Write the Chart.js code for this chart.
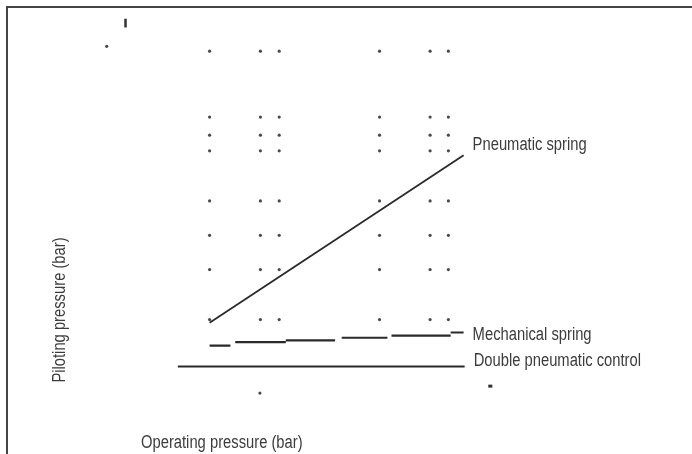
<!DOCTYPE html>
<html><head><meta charset="utf-8">
<script src="https://cdn.jsdelivr.net/npm/chart.js@4/dist/chart.umd.min.js"></script>
<style>html,body{margin:0;padding:0;background:#fff}#wrap{width:692px;height:454px;position:relative}</style>
</head><body><div id="wrap"><canvas id="c" width="692" height="454"></canvas></div>
<script>
// ---- data (bar) ----
const seriesNames = ['Pneumatic spring', 'Mechanical spring', 'Double pneumatic control'];
const xTitle = 'Operating pressure (bar)';
const yTitle = 'Piloting pressure (bar)';

const pneumaticX = [0, 10];
const pneumaticY = [2.07, 10.0];

const mechanicalStartX = [0, 1.01, 3.0, 5.2, 7.16, 9.49];
const mechanicalEndX   = [0.82, 3.0, 4.94, 7.0, 9.49, 10];
const mechanicalY      = [0.99, 1.15, 1.24, 1.36, 1.46, 1.61];

const doubleX = [-1.25, 10.04];
const doubleY = [0, 0];

const gridDotX = [0, 2, 2.74, 6.69, 8.68, 9.4];
const gridDotY = [14.93, 11.81, 10.95, 10.21, 7.84, 6.21, 4.59, 2.22];
const strayDotX = [-4.05, 1.98];
const strayDotY = [15.16, -1.26];
const strayDashX = [10.97, 11.13];
const strayDashY = [-0.93, -0.93];
const strayTickX = [-3.31, -3.31];
const strayTickY = [16.47, 16.05];

// ---- build ----
const lineColor = '#2a2a2a';
const textColor = '#3c3c3c';
const pts = (xs, ys) => xs.map((x, i) => ({x, y: ys[i]}));
const mechPts = [];
mechanicalStartX.forEach((x0, i) => {
  mechPts.push({x: x0, y: mechanicalY[i]});
  mechPts.push({x: mechanicalEndX[i], y: mechanicalY[i]});
  if (i < mechanicalStartX.length - 1) mechPts.push({x: mechanicalEndX[i], y: null});
});
const dotPts = [];
gridDotY.forEach(y => gridDotX.forEach(x => dotPts.push({x, y})));
pts(strayDotX, strayDotY).forEach(p => dotPts.push(p));

const FONT = '18px "Liberation Sans", Arial, sans-serif';
const NARROW = 0.82;

function narrowText(ctx, text, x, y, align, rot) {
  ctx.save();
  ctx.translate(x, y);
  if (rot) ctx.rotate(rot);
  ctx.scale(NARROW, 1);
  ctx.textAlign = align;
  ctx.fillText(text, 0, 0);
  ctx.restore();
}

const annot = {
  id: 'annot',
  beforeDraw(chart) {
    const ctx = chart.ctx;
    ctx.save();
    ctx.strokeStyle = '#444';
    ctx.lineWidth = 2;
    ctx.beginPath();
    ctx.moveTo(7, 454);
    ctx.lineTo(7, 7);
    ctx.lineTo(692, 7);
    ctx.stroke();
    ctx.restore();
  },
  afterDraw(chart) {
    const ctx = chart.ctx;
    const xs = chart.scales.x, ys = chart.scales.y;
    ctx.save();
    ctx.fillStyle = textColor;
    ctx.font = FONT;
    ctx.textBaseline = 'middle';
    const ends = [
      [pneumaticX[1], pneumaticY[1], -10],
      [mechanicalEndX[mechanicalEndX.length - 1], mechanicalY[mechanicalY.length - 1], 3],
      [doubleX[1], doubleY[1], -5]
    ];
    ends.forEach((e, i) => {
      narrowText(ctx, seriesNames[i], xs.getPixelForValue(e[0]) + 9, ys.getPixelForValue(e[1]) + e[2], 'left');
    });
    narrowText(ctx, xTitle, 141, 443, 'left');
    narrowText(ctx, yTitle, 60, 310, 'center', -Math.PI / 2);
    ctx.restore();
  }
};

new Chart(document.getElementById('c'), {
  type: 'scatter',
  data: {
    datasets: [
      {label: seriesNames[0], data: pts(pneumaticX, pneumaticY), showLine: true, borderColor: lineColor, borderWidth: 1.8, pointRadius: 0},
      {label: seriesNames[1], data: mechPts, showLine: true, spanGaps: false, borderColor: lineColor, borderWidth: 2.2, pointRadius: 0},
      {label: seriesNames[2], data: pts(doubleX, doubleY), showLine: true, borderColor: lineColor, borderWidth: 2.2, pointRadius: 0},
      {label: 'dots', data: dotPts, pointRadius: 1.6, pointBackgroundColor: '#4a4a4a', pointBorderWidth: 0},
      {label: 'dash', data: pts(strayDashX, strayDashY), showLine: true, borderColor: '#333', borderWidth: 3, pointRadius: 0},
      {label: 'tick', data: pts(strayTickX, strayTickY), showLine: true, borderColor: '#333', borderWidth: 2.5, pointRadius: 0}
    ]
  },
  options: {
    responsive: false,
    animation: false,
    devicePixelRatio: 1,
    layout: {padding: 0},
    plugins: {legend: {display: false}, tooltip: {enabled: false}},
    scales: {
      x: {type: 'linear', display: false, min: -208 / 25.7, max: (692 - 208) / 25.7},
      y: {type: 'linear', display: false, min: (369 - 454) / 21.5, max: 369 / 21.5}
    }
  },
  plugins: [annot]
});
</script>
</body></html>
